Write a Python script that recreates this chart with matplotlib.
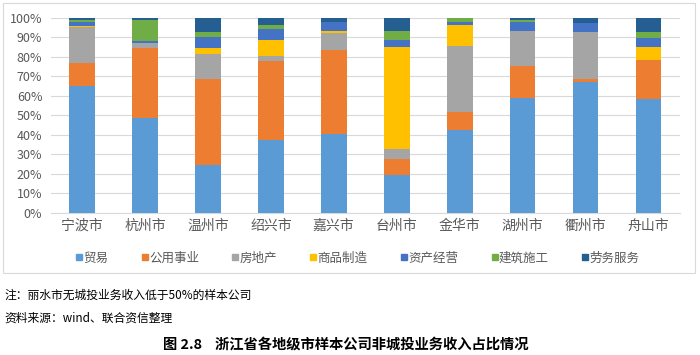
import numpy as np
import matplotlib
matplotlib.use("Agg")
from matplotlib import pyplot as plt
from matplotlib.lines import Line2D
from matplotlib.patches import Rectangle

plt.rcParams['font.family'] = ['Noto Sans CJK SC', 'DejaVu Sans']

cities = ["宁波市", "杭州市", "温州市", "绍兴市", "嘉兴市",
          "台州市", "金华市", "湖州市", "衢州市", "舟山市"]
series_names = ["贸易", "公用事业", "房地产", "商品制造", "资产经营", "建筑施工", "劳务服务"]

trade = [65.0, 48.6, 24.4, 37.5, 40.5, 19.6, 42.6, 59.1, 67.3, 58.4]
utility = [12.0, 36.1, 44.3, 40.4, 43.0, 8.3, 9.0, 16.4, 1.2, 20.0]
real_estate = [18.4, 2.5, 12.7, 2.5, 8.5, 5.0, 33.9, 17.9, 24.2, 0.0]
manufacturing = [0.6, 0.0, 2.9, 8.0, 1.2, 52.3, 10.8, 0.0, 0.0, 6.6]
asset_ops = [1.8, 1.0, 6.0, 6.0, 4.4, 3.4, 1.5, 4.4, 4.6, 4.6]
construction = [1.2, 10.6, 2.4, 1.9, 0.0, 4.6, 1.9, 1.0, 0.0, 3.1]
labor = [1.0, 1.2, 7.3, 3.7, 2.4, 6.8, 0.3, 1.2, 2.7, 7.3]

colors = ["#5B9BD5", "#ED7D31", "#A5A5A5", "#FFC000", "#4472C4", "#70AD47", "#255E91"]


def main():
    fig = plt.figure(figsize=(7, 3.55), dpi=100)

    # light frame around the chart area
    fig.patches.append(Rectangle((0.0043, 0.231), 0.989, 0.761, transform=fig.transFigure,
                                 fill=False, edgecolor="#D9D9D9", linewidth=0.8))

    ax = fig.add_axes([0.0723, 0.40, 0.899, 0.55])
    data = [trade, utility, real_estate, manufacturing, asset_ops, construction, labor]
    x = np.arange(len(cities))
    bottom = np.zeros(len(cities))
    for vals, name, c in zip(data, series_names, colors):
        ax.bar(x, vals, width=0.41, bottom=bottom, color=c, label=name, zorder=3)
        bottom += np.array(vals)

    ax.set_xlim(-0.5, len(cities) - 0.5)
    ax.set_ylim(0, 100)
    ax.set_yticks(np.arange(0, 101, 10))
    ax.set_yticklabels([f"{v}%" for v in range(0, 101, 10)])
    ax.set_xticks(x)
    ax.set_xticklabels(cities)
    ax.yaxis.grid(True, color="#D9D9D9", linewidth=0.8, zorder=0)
    for s in ["top", "right", "left"]:
        ax.spines[s].set_visible(False)
    ax.spines["bottom"].set_color("#D9D9D9")
    ax.tick_params(axis="both", length=0, colors="#595959")
    ax.tick_params(axis="y", labelsize=9, pad=6)
    ax.tick_params(axis="x", labelsize=10, pad=4)

    handles = [Line2D([], [], marker="s", linestyle="none", markersize=4.5,
                      markerfacecolor=c, markeredgecolor=c) for c in colors]
    fig.legend(handles, series_names, loc="center", bbox_to_anchor=(0.511, 0.273), ncol=7,
               frameon=False, fontsize=9, handlelength=0.5, handletextpad=0.1,
               columnspacing=2.65, labelcolor="#595959")

    fig.text(0.007, 0.168, "注：丽水市无城投业务收入低于50%的样本公司", fontsize=8.5, va="center")
    fig.text(0.007, 0.104, "资料来源：wind、联合资信整理", fontsize=8.5, va="center")
    fig.text(0.494, 0.028, "图 2.8    浙江省各地级市样本公司非城投业务收入占比情况",
             fontsize=10.3, fontweight="bold", ha="center", va="center")

    fig.savefig("out.png", dpi=100)


if __name__ == '__main__':
    main()
